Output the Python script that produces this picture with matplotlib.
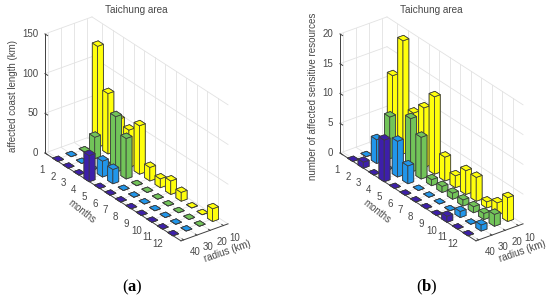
import matplotlib

matplotlib.use('Agg')
import matplotlib.pyplot as plt
from mpl_toolkits.mplot3d import proj3d

plt.rcParams['font.family'] = ['Liberation Sans', 'DejaVu Sans']
plt.rcParams['mathtext.fontset'] = 'custom'
plt.rcParams['mathtext.bf'] = 'Liberation Serif:bold'

W, H = 550, 301

months = [1, 2, 3, 4, 5, 6, 7, 8, 9, 10, 11, 12]
radius = [10, 20, 30, 40]
colors = {10: '#ffff0c', 20: '#72c459', 30: '#2196ea', 40: '#3d1faa'}

# affected coast length (km), one list per radius
coast_10 = [127, 76, 52, 47, 61, 17, 11, 17, 11, 0, 0, 16]
coast_20 = [0, 27, 0, 70, 51, 0, 0, 0, 0, 0, 0, 0]
coast_30 = [0, 0, 0, 20, 18, 0, 0, 0, 0, 0, 0, 0]
coast_40 = [0, 0, 0, 33, 0, 0, 0, 0, 0, 0, 0, 0]

# number of affected sensitive resources
res_10 = [12, 19, 8, 10, 13, 4, 2, 4, 4, 1, 2, 4]
res_20 = [0, 7, 0, 9, 7, 1, 1, 1, 1, 1, 1, 2]
res_30 = [0, 4, 0, 6, 3, 0, 0, 0, 0, 1, 0, 1]
res_40 = [0, 1, 0, 7, 0, 0, 0, 0, 0, 1, 0, 0]

coast_ticks = [0, 50, 100, 150]
res_ticks = [0, 5, 10, 15, 20]

TEXT = '#484848'


def pix(ax, x, y, z):
    ax.apply_aspect()
    ax.M = ax.get_proj()
    u, v, _ = proj3d.proj_transform(x, y, z, ax.M)
    return ax.transData.transform((u, v))


def place_axes(ax, p1, t1, p2, t2):
    # move the square axes so two 3D corners land on the wanted pixels
    side = 0.5 * W
    ax.set_position([0.25, 0.25, side / W, side / H])
    c = (0.25 + side / W / 2) * W, (0.25 + side / H / 2) * H
    a, b = pix(ax, *p1), pix(ax, *p2)
    scale = (t2[0] - t1[0]) / (b[0] - a[0])
    new_side = side * scale
    cx = t1[0] - (a[0] - c[0]) * scale
    cy = (H - t1[1]) - (a[1] - c[1]) * scale
    ax.set_position([(cx - new_side / 2) / W, (cy - new_side / 2) / H, new_side / W, new_side / H])


def tick_text(ax, x, y, z, s, off_x, off_y, ha):
    p = pix(ax, x, y, z)
    fig.text((p[0] + off_x) / W, (p[1] + off_y) / H, s, ha=ha, va='center', fontsize=7, color=TEXT)


def panel(series, zticks, title, zlabel, caption, dx):
    ax = fig.add_axes([0, 0, 1, 1], projection='3d', computed_zorder=False)
    ax.set_proj_type('ortho')
    ax.view_init(elev=28.9, azim=-36.8)
    ax.set_box_aspect((227, 58.7, 136))
    xlo, xhi = 0, 13
    ylo, yhi = 0.8, 4.35
    zhi = zticks[-1]
    ax.set_xlim(xlo, xhi)
    ax.set_ylim(ylo, yhi)
    ax.set_zlim(0, zhi)
    ax.set_axis_off()

    grid = dict(color='#e2e2e2', lw=0.6, zorder=1)
    for z in zticks:
        ax.plot([xlo, xlo], [ylo, yhi], [z, z], **grid)
        ax.plot([xlo, xhi], [yhi, yhi], [z, z], **grid)
    for m in months:
        ax.plot([m, m], [yhi, yhi], [0, zhi], **grid)
        ax.plot([m, m], [ylo, yhi], [0, 0], **grid)
    for i in range(4):
        y = 4 - i
        ax.plot([xlo, xlo], [y, y], [0, zhi], **grid)
        ax.plot([xlo, xhi], [y, y], [0, 0], **grid)

    line = dict(color='#404040', lw=0.7, zorder=2)
    ax.plot([xlo, xlo], [ylo, ylo], [0, zhi], **line)
    ax.plot([xlo, xhi], [ylo, ylo], [0, 0], **line)
    ax.plot([xhi, xhi], [ylo, yhi], [0, 0], **line)
    for m in months:
        ax.plot([m, m], [ylo, ylo + 0.1], [0, 0], **line)
    for i in range(4):
        ax.plot([xhi, xhi - 0.15], [4 - i, 4 - i], [0, 0], **line)
    for z in zticks:
        ax.plot([xlo, xlo + 0.25], [ylo, ylo], [z, z], **line)

    # painter's order: back rows first, far radius first
    order = 10
    for j, m in enumerate(months):
        for i, r in enumerate(radius):
            y = 4 - i
            ax.bar3d(m - 0.25, y - 0.22, 0, 0.5, 0.44, series[i][j], color=colors[r], shade=False,
                     edgecolor='#3c3c3c', linewidth=0.55, zorder=order)
            order += 1

    place_axes(ax, (xlo, ylo, 0), (45 + dx, 153), (xhi, yhi, 0), (228 + dx, 224))

    for z in zticks:
        tick_text(ax, xlo, ylo, z, str(z), -7, 0, 'right')
    for m in months:
        tick_text(ax, m, ylo, 0, str(m), -13, -10, 'center')
    for i, r in enumerate(radius):
        tick_text(ax, xhi, 4 - i, 0, str(r), 11.4, -12, 'center')

    fig.text((136 + dx) / W, 1 - 10 / H, title, ha='center', va='center', fontsize=7.2, color=TEXT)
    fig.text((13 + dx + (5 if dx else 0)) / W, 1 - 96 / H, zlabel, rotation=90, ha='center', va='center',
             fontsize=7, color=TEXT)
    fig.text((82 + dx) / W, 1 - 211 / H, 'months', rotation=-38, ha='center', va='center', fontsize=7,
             color=TEXT)
    fig.text((227 + dx) / W, 1 - 251 / H, 'radius (km)', rotation=19, ha='center', va='center', fontsize=7,
             color=TEXT)
    fig.text((132 + dx) / W, 1 - 287 / H, '($\\mathbf{' + caption + '}$)', ha='center', va='center', fontsize=12,
             family=['Liberation Serif', 'DejaVu Serif'], color='#000000')


fig = plt.figure(figsize=(W / 100, H / 100), dpi=100)
panel([coast_10, coast_20, coast_30, coast_40], coast_ticks, 'Taichung area',
      'affected coast length (km)', 'a', 0)
panel([res_10, res_20, res_30, res_40], res_ticks, 'Taichung area',
      'number of affected sensitive resources', 'b', 295)
fig.savefig('out.png', dpi=100)
